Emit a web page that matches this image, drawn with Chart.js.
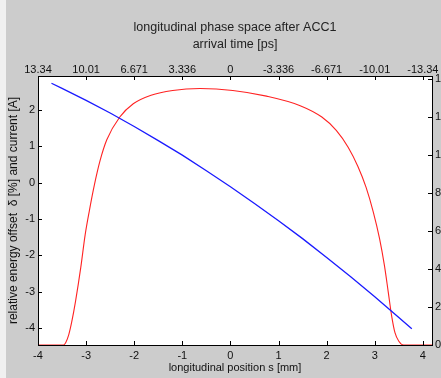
<!DOCTYPE html>
<html>
<head>
<meta charset="utf-8">
<script src="https://cdn.jsdelivr.net/npm/chart.js@4.4.1/dist/chart.umd.min.js"></script>
<style>
  html, body { margin: 0; padding: 0; overflow: hidden; background: #cccccc; }
  #phaseChart { display: block; background: linear-gradient(to right, #f0f0f0 6px, #cccccc 6px); }
</style>
</head>
<body>
<canvas id="phaseChart" width="441" height="378"></canvas>
<script>
// energy offset of the bunch vs position (blue)
const sBeam = [-3.72, -3.5, -3, -2.5, -2, -1.5, -1, -0.5, 0, 0.5, 1, 1.5, 2, 2.5, 3, 3.5, 3.77];
const deltaBeam = [2.74, 2.6, 2.27, 1.92, 1.55, 1.16, 0.76, 0.33, -0.11, -0.57, -1.05, -1.54, -2.06, -2.59, -3.14, -3.71, -4.02];

// current profile (red)
const sCurrent = [-4, -3.47, -3.42, -3.36, -3.3, -3.22, -3.11, -3.02, -2.93, -2.83, -2.71, -2.57, -2.3, -2.02, -1.65, -1.2, -0.63,
                  0.05, 0.75, 1.45, 1.9, 2.2, 2.45, 2.65, 2.82, 2.97, 3.1, 3.2, 3.28, 3.35, 3.42, 3.5, 3.6, 4.19];
const current = [0, 0, 0.15, 0.55, 1.2, 2.3, 4.1, 5.8, 7.1, 8.4, 9.7, 10.8, 12.0, 12.7, 13.15, 13.4, 13.5,
                 13.4, 13.1, 12.6, 12.0, 11.3, 10.4, 9.4, 8.3, 7.0, 5.6, 4.2, 2.8, 1.55, 0.65, 0.2, 0, 0];

// axis ticks
const sTicks = [-4, -3, -2, -1, 0, 1, 2, 3, 4];
const timeLabels = ['13.34', '10.01', '6.671', '3.336', '0', '-3.336', '-6.671', '-10.01', '-13.34'];
const deltaTicks = [-4, -3, -2, -1, 0, 1, 2];
const currentTicks = [0, 2, 4, 6, 8, 10, 12, 14];

const fontFamily = "'Liberation Sans', Arial, sans-serif";
const tickFont = { family: fontFamily, size: 11 };

const plotBackground = {
  id: 'plotBackground',
  beforeDraw(chart) {
    const { ctx, chartArea: a } = chart;
    ctx.save();
    ctx.fillStyle = '#ffffff';
    ctx.fillRect(a.left, a.top, a.right - a.left, a.bottom - a.top);
    ctx.restore();
  }
};

// matlab style ticks pointing into the plot
const innerTicks = {
  id: 'innerTicks',
  afterDraw(chart) {
    const { ctx, chartArea: a, scales } = chart;
    const len = 4;
    ctx.save();
    ctx.strokeStyle = '#000';
    ctx.lineWidth = 1;
    ctx.beginPath();
    scales.x.ticks.forEach((t, i) => {
      const px = Math.round(scales.x.getPixelForTick(i)) + 0.5;
      ctx.moveTo(px, a.bottom); ctx.lineTo(px, a.bottom - len);
    });
    scales.x2.ticks.forEach((t, i) => {
      const px = Math.round(scales.x2.getPixelForTick(i)) + 0.5;
      ctx.moveTo(px, a.top); ctx.lineTo(px, a.top + len);
    });
    scales.y.ticks.forEach((t, i) => {
      const py = Math.round(scales.y.getPixelForTick(i)) + 0.5;
      ctx.moveTo(a.left, py); ctx.lineTo(a.left + len, py);
    });
    scales.y2.ticks.forEach((t, i) => {
      const py = Math.round(scales.y2.getPixelForTick(i)) + 0.5;
      ctx.moveTo(a.right, py); ctx.lineTo(a.right - len, py);
    });
    ctx.stroke();
    ctx.restore();
  }
};

const fixTicks = arr => scale => { scale.ticks = arr.map(v => ({ value: v })); };
const noPad = size => scale => {
  if (scale.isHorizontal()) scale.height = size; else scale.width = size;
  scale.paddingLeft = 0; scale.paddingRight = 0;
  scale.paddingTop = 0; scale.paddingBottom = 0;
};

const axisBase = {
  type: 'linear',
  grid: { display: false, drawTicks: false },
  border: { display: true, color: '#000', width: 1 },
  ticks: { color: '#111', font: tickFont, autoSkip: false, maxRotation: 0, padding: 3 }
};

new Chart(document.getElementById('phaseChart'), {
  type: 'scatter',
  data: {
    datasets: [
      {
        label: 'delta',
        data: sBeam.map((s, i) => ({ x: s, y: deltaBeam[i] })),
        showLine: true,
        borderColor: '#1a1aff',
        borderWidth: 1.3,
        pointRadius: 0,
        xAxisID: 'x',
        yAxisID: 'y'
      },
      {
        label: 'current',
        data: sCurrent.map((s, i) => ({ x: s, y: current[i] })),
        showLine: true,
        borderColor: '#ff2222',
        borderWidth: 1.1,
        pointRadius: 0,
        cubicInterpolationMode: 'monotone',
        xAxisID: 'x',
        yAxisID: 'y2'
      }
    ]
  },
  options: {
    responsive: false,
    animation: false,
    layout: { padding: 0 },
    plugins: { legend: { display: false }, tooltip: { enabled: false } },
    scales: {
      x: {
        ...axisBase,
        position: 'bottom',
        min: -4, max: 4.19,
        afterBuildTicks: fixTicks(sTicks),
        afterFit: noPad(33),
        ticks: { ...axisBase.ticks, padding: 4 },
        title: { display: true, text: 'longitudinal position s [mm]', color: '#111', font: tickFont, padding: { top: 0, bottom: 3 } }
      },
      x2: {
        ...axisBase,
        position: 'top',
        min: -4, max: 4.19,
        afterBuildTicks: fixTicks(sTicks),
        afterFit: noPad(76),
        ticks: { ...axisBase.ticks, padding: -1, callback: (v, i) => timeLabels[i] },
        title: {
          display: true,
          text: ['longitudinal phase space after ACC1', 'arrival time [ps]'],
          color: '#222',
          font: { family: fontFamily, size: 12.5, lineHeight: 1.35 },
          padding: { top: 19, bottom: 0 }
        }
      },
      y: {
        ...axisBase,
        position: 'left',
        min: -4.47, max: 2.94,
        afterBuildTicks: fixTicks(deltaTicks),
        afterFit: noPad(38),
        title: { display: true, text: 'relative energy offset  \u03b4 [%] and current [A]', color: '#111', font: { family: fontFamily, size: 12 }, padding: { top: 6, bottom: 0 } }
      },
      y2: {
        ...axisBase,
        position: 'right',
        min: 0, max: 14.16,
        afterBuildTicks: fixTicks(currentTicks),
        afterFit: noPad(9),
        ticks: { ...axisBase.ticks, padding: 3 }
      }
    }
  },
  plugins: [plotBackground, innerTicks]
});
</script>
</body>
</html>
